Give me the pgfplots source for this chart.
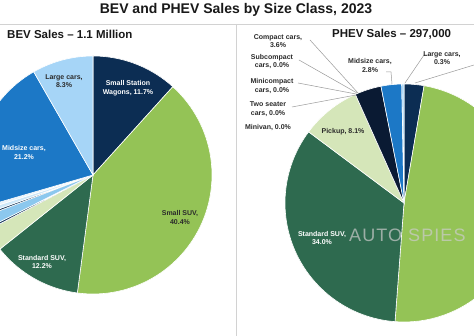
\documentclass[border=0pt]{standalone}
\usepackage{pgfplots}
\usepackage{pgfplotstable}
\pgfplotsset{compat=1.18}
\usepgfplotslibrary{polar}
\usepackage{fontspec}
\setmainfont{Liberation Sans}

\definecolor{cSSW}{HTML}{0C2D53}
\definecolor{cSmallSUV}{HTML}{94C356}
\definecolor{cStdSUV}{HTML}{2E6A4F}
\definecolor{cPickup}{HTML}{D5E6B9}
\definecolor{cMid}{HTML}{1C78C6}
\definecolor{cLarge}{HTML}{A6D5F7}
\definecolor{cCompact}{HTML}{0A1A33}
\definecolor{cDark}{HTML}{1B3A5C}
\definecolor{cLight}{HTML}{8CC8EE}
\definecolor{cPale}{HTML}{CFE8F8}
\definecolor{cWhiteish}{HTML}{EAF4FB}
\definecolor{txt}{HTML}{2B2B2B}
\definecolor{lead}{HTML}{9A9A9A}

\pgfplotstableread[col sep=comma]{
name,value,color
Small Station Wagons,11.7,cSSW
Small SUV,40.4,cSmallSUV
Standard SUV,12.2,cStdSUV
Pickup,3.0,cPickup
Minivan,0.3,cDark
Two seater cars,1.6,cLight
Minicompact cars,0.3,cDark
Subcompact cars,0.6,cPale
Compact cars,0.4,cWhiteish
Midsize cars,21.2,cMid
Large cars,8.3,cLarge
}\bevdata

\pgfplotstableread[col sep=comma]{
name,value,color
Small Station Wagons,2.7,cSSW
Small SUV,48.5,cSmallSUV
Standard SUV,34.0,cStdSUV
Pickup,8.1,cPickup
Minivan,0.0,cDark
Two seater cars,0.0,cDark
Minicompact cars,0.0,cDark
Subcompact cars,0.0,cDark
Compact cars,3.6,cCompact
Midsize cars,2.8,cMid
Large cars,0.3,cLarge
}\phevdata

% draws the slices of a pie from a table, clockwise from the top
\newcommand{\pieslices}[1]{%
  \pgfplotstablegetrowsof{#1}%
  \pgfmathtruncatemacro\N{\pgfplotsretval-1}%
  \def\cum{0}%
  \pgfplotsforeachungrouped \i in {0,...,\N}{%
    \pgfplotstablegetelem{\i}{value}\of#1\let\v\pgfplotsretval
    \pgfplotstablegetelem{\i}{color}\of#1\let\c\pgfplotsretval
    \pgfmathsetmacro\aA{90-3.6*\cum}%
    \pgfmathsetmacro\cum{\cum+\v}%
    \pgfmathsetmacro\aB{90-3.6*\cum}%
    \ifdim\v pt>0pt
      \edef\temp{\noexpand\addplot[fill=\c, draw=white, line width=0.6pt, domain=\aB:\aA, samples=60] {1} -- (axis cs:0,0) -- cycle;}%
      \temp
    \fi
  }%
}

\begin{document}
\begin{tikzpicture}[x=1pt,y=1pt]
\useasboundingbox (0,0) rectangle (474,336);
\clip (0,0) rectangle (474,336);
\fill[white] (0,0) rectangle (474,336);

% BEV pie
\begin{polaraxis}[at={(93pt,161pt)}, anchor=center, hide axis, scale only axis,
  width=238pt, height=238pt, xmin=0, xmax=360, ymin=0, ymax=1, clip=false]
  \pieslices{\bevdata}
\end{polaraxis}

% PHEV pie
\begin{polaraxis}[at={(404pt,133pt)}, anchor=center, hide axis, scale only axis,
  width=238pt, height=238pt, xmin=0, xmax=360, ymin=0, ymax=1, clip=false]
  \pieslices{\phevdata}
\end{polaraxis}

% frame lines
\draw[gray!35, line width=0.7pt] (0,312) -- (474,312);
\draw[gray!35, line width=0.7pt] (236.5,312) -- (236.5,0);

% titles
\node[anchor=base, font=\fontsize{14}{16}\selectfont\bfseries, text=black!90] at (236,322.7) {BEV and PHEV Sales by Size Class, 2023};
\node[anchor=base west, inner sep=0pt, font=\fontsize{11.5}{13}\selectfont\bfseries, text=black!90] at (7,297.7) {BEV Sales -- 1.1 Million};
\node[anchor=base west, inner sep=0pt, font=\fontsize{11.5}{13}\selectfont\bfseries, text=black!90] at (332,298.7) {PHEV Sales -- 297,000};

% BEV labels
\tikzset{lbl/.style={align=center, inner sep=0pt, font=\fontsize{7}{8.5}\selectfont\bfseries}}
\node[lbl, text=white] at (128,248) {Small Station\\Wagons, 11.7\%};
\node[lbl, text=txt] at (64,255) {Large cars,\\8.3\%};
\node[lbl, text=white, anchor=west] at (2,183.5) {Midsize cars,\\21.2\%};
\node[lbl, text=txt] at (180,118.5) {Small SUV,\\40.4\%};
\node[lbl, text=white] at (42,74) {Standard SUV,\\12.2\%};

% PHEV leader lines
\draw[lead, line width=0.5pt] (310,296) -- (358,243);
\draw[lead, line width=0.5pt] (299,276) -- (357,243);
\draw[lead, line width=0.5pt] (298,253) -- (356,242);
\draw[lead, line width=0.5pt] (292,229) -- (356,241);
\draw[lead, line width=0.5pt] (386,264) -- (391,264) -- (392,252);
\draw[lead, line width=0.5pt] (427,281) -- (424,281) -- (405,253);
\draw[lead, line width=0.5pt] (474,271) -- (415,253);

% PHEV labels
\node[lbl, text=txt] at (278,295) {Compact cars,\\3.6\%};
\node[lbl, text=txt] at (272,274.5) {Subcompact\\cars, 0.0\%};
\node[lbl, text=txt] at (272,250) {Minicompact\\cars, 0.0\%};
\node[lbl, text=txt] at (268,227) {Two seater\\cars, 0.0\%};
\node[lbl, text=txt] at (268,208) {Minivan, 0.0\%};
\node[lbl, text=txt] at (370,270.5) {Midsize cars,\\2.8\%};
\node[lbl, text=txt] at (442,278) {Large cars,\\0.3\%};
\node[lbl, text=txt] at (343,204) {Pickup, 8.1\%};
\node[lbl, text=white] at (322,98) {Standard SUV,\\34.0\%};

% watermark
\node[anchor=base west, inner sep=0pt, font=\fontsize{18}{19}\selectfont\addfontfeatures{LetterSpace=6}, text=gray!40, opacity=0.7] at (349,94) {AUTO SPIES};
\end{tikzpicture}
\end{document}
